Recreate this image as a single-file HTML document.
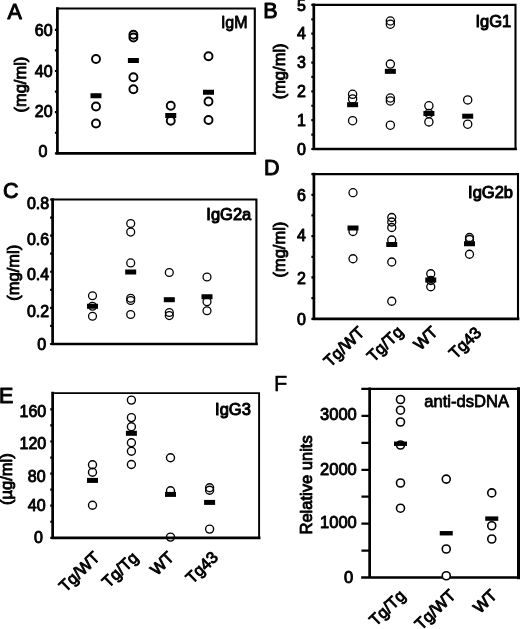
<!DOCTYPE html>
<html lang="en"><head><meta charset="utf-8"><title>Figure</title>
<style>html,body{margin:0;padding:0;background:#fff}svg{display:block;filter:blur(.35px)}text{font-family:"Liberation Sans", Arial, Helvetica, sans-serif;fill:#000}text{stroke:#000;stroke-linejoin:round}.tk{stroke-width:.9px}.xl{stroke-width:.9px}.ti{stroke-width:1px}.yl{stroke-width:.9px}.ti2{stroke-width:.8px}.ti3{stroke-width:.8px}.lt2{stroke-width:.4px}.lt{stroke-width:1px}</style></head><body>
<svg width="520" height="629" viewBox="0 0 520 629">
<rect width="520" height="629" fill="#fff"/>
<g id="panelA">
<path d="M57.4 8.55 H254.8 V153.3" fill="none" stroke="#000" stroke-width="2.1" stroke-linecap="square"/>
<path d="M57.4 8.55 V153.3 M57.4 153.3 H254.8" fill="none" stroke="#000" stroke-width="2.7" stroke-linecap="square"/>
<path d="M57.4 153.3 h-2.5 M57.4 132.73 h-2.5 M57.4 112.16 h-2.5 M57.4 91.59 h-2.5 M57.4 71.02 h-2.5 M57.4 50.45 h-2.5 M57.4 29.88 h-2.5 " fill="none" stroke="#000" stroke-width="2.2"/>
<text x="52.6" y="36.2" font-size="16" text-anchor="end" class="tk">60</text>
<text x="52.6" y="76.5" font-size="16" text-anchor="end" class="tk">40</text>
<text x="52.6" y="116.8" font-size="16" text-anchor="end" class="tk">20</text>
<text x="47.3" y="156.5" font-size="16" text-anchor="end" class="tk">0</text>
<text x="7.5" y="18.5" font-size="21.5" text-anchor="start" class="lt">A</text>
<text x="247.6" y="27.8" font-size="16" text-anchor="end" class="ti3">IgM</text>
<text x="26.5" y="84.6" font-size="16.5" text-anchor="middle" class="yl" transform="rotate(-90 26.5 84.6)">(mg/ml)</text>
<g fill="none" stroke="#000" stroke-width="1.9">
<circle cx="96" cy="59" r="4.0"/>
<circle cx="96" cy="106.5" r="4.0"/>
<circle cx="96" cy="123.5" r="4.0"/>
<circle cx="133.4" cy="34.8" r="4.0"/>
<circle cx="133.4" cy="37.5" r="4.0"/>
<circle cx="133.4" cy="77.3" r="4.0"/>
<circle cx="133.4" cy="89.2" r="4.0"/>
<circle cx="170.75" cy="105.75" r="4.0"/>
<circle cx="170.75" cy="120.75" r="4.0"/>
<circle cx="208.5" cy="56.25" r="4.0"/>
<circle cx="208.5" cy="101.5" r="4.0"/>
<circle cx="208.5" cy="120" r="4.0"/>
</g>
<g fill="#000">
<rect x="90.50" y="93.25" width="11" height="5"/>
<rect x="127.90" y="58.00" width="11" height="5"/>
<rect x="165.25" y="113.00" width="11" height="5"/>
<rect x="203.00" y="89.75" width="11" height="5"/>
</g>
</g>
<g id="panelB">
<path d="M313.8 4.9 H515.5 V149.0" fill="none" stroke="#000" stroke-width="2.1" stroke-linecap="square"/>
<path d="M313.8 4.9 V149.0 M313.8 149.0 H515.5" fill="none" stroke="#000" stroke-width="2.7" stroke-linecap="square"/>
<path d="M313.8 149.0 h-2.5 M313.8 134.59 h-2.5 M313.8 120.18 h-2.5 M313.8 105.77 h-2.5 M313.8 91.36 h-2.5 M313.8 76.95 h-2.5 M313.8 62.54 h-2.5 M313.8 48.13 h-2.5 M313.8 33.72 h-2.5 M313.8 19.31 h-2.5 M313.8 4.9 h-2.5 " fill="none" stroke="#000" stroke-width="2.2"/>
<text x="305.8" y="10.6" font-size="16" text-anchor="end" class="tk">5</text>
<text x="305.8" y="39.2" font-size="16" text-anchor="end" class="tk">4</text>
<text x="305.8" y="68" font-size="16" text-anchor="end" class="tk">3</text>
<text x="305.8" y="97" font-size="16" text-anchor="end" class="tk">2</text>
<text x="305.8" y="126" font-size="16" text-anchor="end" class="tk">1</text>
<text x="305.8" y="154.5" font-size="16" text-anchor="end" class="tk">0</text>
<text x="263.3" y="18" font-size="21.5" text-anchor="start" class="lt">B</text>
<text x="511.2" y="26.6" font-size="16.5" text-anchor="end" class="ti">IgG1</text>
<text x="285.2" y="71.4" font-size="16.5" text-anchor="middle" class="yl" transform="rotate(-90 285.2 71.4)">(mg/ml)</text>
<g fill="none" stroke="#000" stroke-width="1.3">
<circle cx="352.6" cy="94.3" r="4.1"/>
<circle cx="352.6" cy="98.9" r="4.1"/>
<circle cx="352.6" cy="120.7" r="4.1"/>
<circle cx="390.35" cy="21" r="4.1"/>
<circle cx="390.35" cy="24.2" r="4.1"/>
<circle cx="390.35" cy="64.1" r="4.1"/>
<circle cx="390.35" cy="98" r="4.1"/>
<circle cx="390.35" cy="101" r="4.1"/>
<circle cx="390.35" cy="125.2" r="4.1"/>
<circle cx="428.9" cy="105.8" r="4.1"/>
<circle cx="428.9" cy="113.5" r="4.1"/>
<circle cx="428.9" cy="121.9" r="4.1"/>
<circle cx="467.7" cy="99.9" r="4.1"/>
<circle cx="467.7" cy="124.2" r="4.1"/>
</g>
<g fill="#000">
<rect x="347.10" y="102.20" width="11" height="5"/>
<rect x="384.85" y="68.85" width="11" height="5"/>
<rect x="423.40" y="111.00" width="11" height="5"/>
<rect x="462.20" y="113.70" width="11" height="5"/>
</g>
</g>
<g id="panelC">
<path d="M52.6 199.5 H256.4 V344" fill="none" stroke="#000" stroke-width="2.1" stroke-linecap="square"/>
<path d="M52.6 199.5 V344 M52.6 344 H256.4" fill="none" stroke="#000" stroke-width="2.7" stroke-linecap="square"/>
<path d="M52.6 344.0 h-2.5 M52.6 325.94 h-2.5 M52.6 307.88 h-2.5 M52.6 289.82 h-2.5 M52.6 271.76 h-2.5 M52.6 253.7 h-2.5 M52.6 235.64 h-2.5 M52.6 217.58 h-2.5 M52.6 199.52 h-2.5 " fill="none" stroke="#000" stroke-width="2.2"/>
<text x="49.2" y="209" font-size="16" text-anchor="end" class="tk">0.8</text>
<text x="49.2" y="245.2" font-size="16" text-anchor="end" class="tk">0.6</text>
<text x="49.2" y="280" font-size="16" text-anchor="end" class="tk">0.4</text>
<text x="49.2" y="316.7" font-size="16" text-anchor="end" class="tk">0.2</text>
<text x="46.2" y="350.3" font-size="16" text-anchor="end" class="tk">0</text>
<text x="3" y="198" font-size="21.5" text-anchor="start" class="lt">C</text>
<text x="251.25" y="220" font-size="16.5" text-anchor="end" class="ti">IgG2a</text>
<text x="18.8" y="272.7" font-size="16.5" text-anchor="middle" class="yl" transform="rotate(-90 18.8 272.7)">(mg/ml)</text>
<g fill="none" stroke="#000" stroke-width="1.3">
<circle cx="92.5" cy="295.75" r="3.95"/>
<circle cx="92.5" cy="306.25" r="3.95"/>
<circle cx="92.5" cy="316.25" r="3.95"/>
<circle cx="130.7" cy="223.5" r="3.95"/>
<circle cx="130.7" cy="232.1" r="3.95"/>
<circle cx="130.7" cy="262.9" r="3.95"/>
<circle cx="130.7" cy="298.25" r="3.95"/>
<circle cx="130.7" cy="300.5" r="3.95"/>
<circle cx="130.7" cy="314.5" r="3.95"/>
<circle cx="169.3" cy="272.5" r="3.95"/>
<circle cx="169.3" cy="312.5" r="3.95"/>
<circle cx="169.3" cy="315.6" r="3.95"/>
<circle cx="207" cy="277" r="3.95"/>
<circle cx="207" cy="301.75" r="3.95"/>
<circle cx="207" cy="310.75" r="3.95"/>
</g>
<g fill="#000">
<rect x="87.00" y="303.75" width="11" height="5"/>
<rect x="125.20" y="269.50" width="11" height="5"/>
<rect x="163.80" y="297.20" width="11" height="5"/>
<rect x="201.50" y="294.25" width="11" height="5"/>
</g>
</g>
<g id="panelD">
<path d="M313.9 174.1 H518 V318.8" fill="none" stroke="#000" stroke-width="2.1" stroke-linecap="square"/>
<path d="M313.9 174.1 V318.8 M313.9 318.8 H518" fill="none" stroke="#000" stroke-width="2.7" stroke-linecap="square"/>
<path d="M313.9 318.8 h-2.5 M313.9 298.13 h-2.5 M313.9 277.46 h-2.5 M313.9 256.79 h-2.5 M313.9 236.12 h-2.5 M313.9 215.45 h-2.5 M313.9 194.78 h-2.5 M313.9 174.11 h-2.5 " fill="none" stroke="#000" stroke-width="2.2"/>
<text x="306" y="200.6" font-size="16" text-anchor="end" class="tk">6</text>
<text x="306" y="241.4" font-size="16" text-anchor="end" class="tk">4</text>
<text x="306" y="283.9" font-size="16" text-anchor="end" class="tk">2</text>
<text x="306" y="324.6" font-size="16" text-anchor="end" class="tk">0</text>
<text x="264" y="175.3" font-size="21.5" text-anchor="start" class="lt">D</text>
<text x="513" y="197.7" font-size="16.5" text-anchor="end" class="ti">IgG2b</text>
<text x="285.5" y="249.6" font-size="16.5" text-anchor="middle" class="yl" transform="rotate(-90 285.5 249.6)">(mg/ml)</text>
<g fill="none" stroke="#000" stroke-width="1.3">
<circle cx="353" cy="192.7" r="4.0"/>
<circle cx="353" cy="231.5" r="4.0"/>
<circle cx="353" cy="258.75" r="4.0"/>
<circle cx="391.75" cy="217.5" r="4.0"/>
<circle cx="391.75" cy="222" r="4.0"/>
<circle cx="391.75" cy="227.5" r="4.0"/>
<circle cx="391.75" cy="240" r="4.0"/>
<circle cx="391.75" cy="262" r="4.0"/>
<circle cx="391.75" cy="301.25" r="4.0"/>
<circle cx="430.75" cy="273.75" r="4.0"/>
<circle cx="430.75" cy="280.5" r="4.0"/>
<circle cx="430.75" cy="286.75" r="4.0"/>
<circle cx="469.5" cy="237.5" r="4.0"/>
<circle cx="469.5" cy="239.5" r="4.0"/>
<circle cx="469.5" cy="254.25" r="4.0"/>
</g>
<g fill="#000">
<rect x="347.50" y="225.50" width="11" height="5"/>
<rect x="386.25" y="242.00" width="11" height="5"/>
<rect x="425.25" y="277.50" width="11" height="5"/>
<rect x="464.00" y="241.25" width="11" height="5"/>
</g>
<text x="365.5" y="333.5" font-size="16.4" text-anchor="end" class="xl" transform="rotate(-44 365.5 333.5)">Tg/WT</text>
<text x="404.2" y="333" font-size="16.4" text-anchor="end" class="xl" transform="rotate(-44 404.2 333)">Tg/Tg</text>
<text x="438.6" y="333.3" font-size="16.4" text-anchor="end" class="xl" transform="rotate(-44 438.6 333.3)">WT</text>
<text x="482.3" y="333.8" font-size="16.4" text-anchor="end" class="xl" transform="rotate(-44 482.3 333.8)">Tg43</text>
</g>
<g id="panelE">
<path d="M52.65 393.1 H259.1 V537.8" fill="none" stroke="#000" stroke-width="1.9" stroke-linecap="square"/>
<path d="M52.65 393.1 V537.8 M52.65 537.8 H259.1" fill="none" stroke="#000" stroke-width="2.7" stroke-linecap="square"/>
<path d="M52.65 537.8 h-2.4 M52.65 521.75 h-2.4 M52.65 505.7 h-2.4 M52.65 489.65 h-2.4 M52.65 473.6 h-2.4 M52.65 457.55 h-2.4 M52.65 441.5 h-2.4 M52.65 425.45 h-2.4 M52.65 409.4 h-2.4 " fill="none" stroke="#000" stroke-width="2.2"/>
<text x="46.25" y="416.8" font-size="16" text-anchor="end" class="tk">160</text>
<text x="46.25" y="449" font-size="16" text-anchor="end" class="tk">120</text>
<text x="45.6" y="481.5" font-size="16" text-anchor="end" class="tk">80</text>
<text x="45.6" y="511.3" font-size="16" text-anchor="end" class="tk">40</text>
<text x="43" y="542.6" font-size="16" text-anchor="end" class="tk">0</text>
<text x="-0.9" y="403" font-size="21.5" text-anchor="start" class="lt">E</text>
<text x="250.9" y="414.7" font-size="16.5" text-anchor="end" class="ti">IgG3</text>
<text x="12.5" y="479.2" font-size="16.5" text-anchor="middle" class="yl" transform="rotate(-90 12.5 479.2)">(µg/ml)</text>
<g fill="none" stroke="#000" stroke-width="1.4">
<circle cx="92.5" cy="464.8" r="4.0"/>
<circle cx="92.5" cy="472.2" r="4.0"/>
<circle cx="92.5" cy="505.2" r="4.0"/>
<circle cx="131.4" cy="400.1" r="4.0"/>
<circle cx="131.4" cy="417.6" r="4.0"/>
<circle cx="131.4" cy="426.8" r="4.0"/>
<circle cx="131.4" cy="442.7" r="4.0"/>
<circle cx="131.4" cy="451.3" r="4.0"/>
<circle cx="131.4" cy="464.5" r="4.0"/>
<circle cx="170.5" cy="457.8" r="4.0"/>
<circle cx="170.5" cy="490.7" r="4.0"/>
<circle cx="170.5" cy="537.1" r="4.0"/>
<circle cx="209.6" cy="487.7" r="4.0"/>
<circle cx="209.6" cy="490.2" r="4.0"/>
<circle cx="209.6" cy="529.1" r="4.0"/>
</g>
<g fill="#000">
<rect x="87.00" y="477.90" width="11" height="5"/>
<rect x="125.90" y="430.80" width="11" height="5"/>
<rect x="165.00" y="491.90" width="11" height="5"/>
<rect x="204.10" y="499.90" width="11" height="5"/>
</g>
<text x="100.8" y="558.5" font-size="16.4" text-anchor="end" class="xl" transform="rotate(-44 100.8 558.5)">Tg/WT</text>
<text x="139.4" y="558.8" font-size="16.4" text-anchor="end" class="xl" transform="rotate(-44 139.4 558.8)">Tg/Tg</text>
<text x="175" y="558.5" font-size="16.4" text-anchor="end" class="xl" transform="rotate(-44 175 558.5)">WT</text>
<text x="219" y="558.5" font-size="16.4" text-anchor="end" class="xl" transform="rotate(-44 219 558.5)">Tg43</text>
</g>
<g id="panelF">
<path d="M362.5 388.9 H518.7" fill="none" stroke="#000" stroke-width="2.4" stroke-linecap="square"/>
<path d="M518.7 388.9 V577.5" fill="none" stroke="#000" stroke-width="3.4" stroke-linecap="square"/>
<path d="M369.65 388.9 V577.5 M362.5 577.5 H518.7" fill="none" stroke="#000" stroke-width="2.7" stroke-linecap="square"/>
<path d="M369.65 550.57 h-8.2 M369.65 523.64 h-8.2 M369.65 496.71 h-8.2 M369.65 469.78 h-8.2 M369.65 442.85 h-8.2 M369.65 415.92 h-8.2 " fill="none" stroke="#000" stroke-width="2.2"/>
<text x="356.8" y="420.4" font-size="16.5" text-anchor="end" class="tk">3000</text>
<text x="356.8" y="474.5" font-size="16.5" text-anchor="end" class="tk">2000</text>
<text x="356.8" y="528.4" font-size="16.5" text-anchor="end" class="tk">1000</text>
<text x="353.3" y="583" font-size="16.5" text-anchor="end" class="tk">0</text>
<text x="274" y="391" font-size="21.8" text-anchor="start" class="lt2">F</text>
<text x="509.1" y="406.5" font-size="16.6" text-anchor="end" class="ti2">anti-dsDNA</text>
<text x="311.6" y="484.9" font-size="16.55" text-anchor="middle" class="yl" transform="rotate(-90 311.6 484.9)">Relative units</text>
<g fill="#fff" stroke="#000" stroke-width="1.6">
<circle cx="400.5" cy="399.5" r="4.0"/>
<circle cx="400.5" cy="410.2" r="4.0"/>
<circle cx="400.5" cy="422" r="4.0"/>
<circle cx="400.5" cy="445" r="4.0"/>
<circle cx="400.5" cy="483" r="4.0"/>
<circle cx="400.5" cy="508.2" r="4.0"/>
<circle cx="446.25" cy="479.1" r="4.0"/>
<circle cx="446.25" cy="549" r="4.0"/>
<circle cx="446.25" cy="575.75" r="4.0"/>
<circle cx="491.75" cy="492.9" r="4.0"/>
<circle cx="491.75" cy="525.75" r="4.0"/>
<circle cx="491.75" cy="539" r="4.0"/>
</g>
<g fill="#000">
<rect x="394.00" y="441.55" width="13" height="4.4"/>
<rect x="439.75" y="531.05" width="13" height="4.4"/>
<rect x="485.25" y="516.40" width="13" height="4.4"/>
</g>
<text x="406.5" y="597" font-size="16.4" text-anchor="end" class="xl" transform="rotate(-44 406.5 597)">Tg/Tg</text>
<text x="456.6" y="596.6" font-size="16.4" text-anchor="end" class="xl" transform="rotate(-44 456.6 596.6)">Tg/WT</text>
<text x="498" y="596.5" font-size="16.4" text-anchor="end" class="xl" transform="rotate(-44 498 596.5)">WT</text>
</g>
</svg></body></html>
